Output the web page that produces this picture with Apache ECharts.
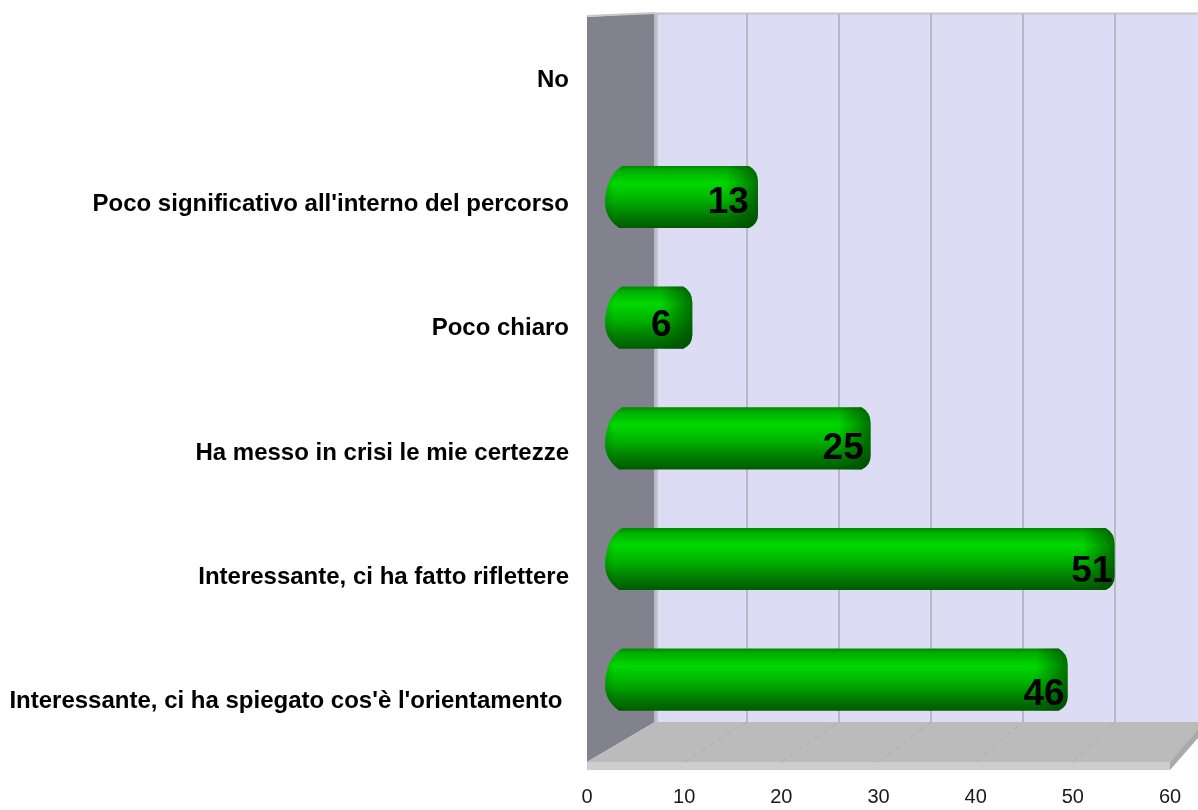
<!DOCTYPE html>
<html><head><meta charset="utf-8">
<style>html,body{margin:0;padding:0;background:#fff}#c{width:1198px;height:810px}</style>
<script src="https://cdn.jsdelivr.net/npm/echarts@6/dist/echarts.min.js"></script>
</head><body><div id="c"></div>
<script>
var categories = ['No','Poco significativo all\'interno del percorso','Poco chiaro','Ha messo in crisi le mie certezze','Interessante, ci ha fatto riflettere','Interessante, ci ha spiegato cos\'è l\'orientamento '];
var values = [0,13,6,25,51,46];
var axisTicks = [0,10,20,30,40,50,60];

var chart = echarts.init(document.getElementById('c'), null, {renderer:'canvas'});
var FONT = '"Liberation Sans", Arial, sans-serif';
var rows = values.map(function(v,i){return [v,i];});

function poly(points, fill, z){
  return {type:'polygon', z:z||-10, silent:true, shape:{points:points}, style:{fill:fill}};
}
function seg(x1,y1,x2,y2,stroke,w,dash){
  return {type:'line', z:-9, silent:true, shape:{x1:x1,y1:y1,x2:x2,y2:y2}, style:{stroke:stroke,lineWidth:w,lineDash:dash||null}};
}
var scenery = [
  poly([[655,14],[1198,14],[1198,722],[655,722]],'#dcdcf4'),
  poly([[587,17],[620,15],[655,13],[655,722],[587,762]],'#82828e'),
  poly([[587,762],[655,722],[1198,722],[1198,733],[1170,762]],'#bbbbbb'),
  poly([[587,762],[1170,762],[1170,770],[587,770]],'#cdcdcd'),
  poly([[1170,770],[1170,762],[1198,730],[1198,738]],'#a9a9a9'),
  seg(655,13.5,1198,13.5,'#c4c4c4',2),
  seg(587,16,655,13,'#c8c8c8',2),
  seg(656.5,14,656.5,722,'#c3c3d0',3)
];
[1,2,3,4,5].forEach(function(k){
  scenery.push(seg(587+97.2*k,762,655+92*k,722,'#adadad',1,[6,4]));
});

chart.setOption({
  animation:false,
  backgroundColor:'#ffffff',
  graphic:{elements:scenery},
  grid:[
    {left:587,width:583,top:18,height:746},   // front: tick labels + category labels
    {left:655,width:460,top:14,height:708},   // back wall gridlines
    {left:635,width:564,top:16,height:724},   // cylinders
    {left:604,width:574,top:19,height:737}    // value labels
  ],
  xAxis:[
    {gridIndex:0,type:'value',min:0,max:60,interval:10,axisLine:{show:false},axisTick:{show:false},splitLine:{show:false},
     axisLabel:{margin:23,fontSize:20,color:'#1a1a1a',fontFamily:FONT,
       formatter:function(v){return axisTicks.indexOf(v)>=0?String(v):'';}}},
    {gridIndex:1,type:'value',min:0,max:50,interval:10,axisLine:{show:false},axisTick:{show:false},axisLabel:{show:false},
     splitLine:{show:true,lineStyle:{color:'#b9b9c6',width:2}}},
    {gridIndex:2,type:'value',min:0,max:60,show:false},
    {gridIndex:3,type:'value',min:0,max:60,show:false}
  ],
  yAxis:[
    {gridIndex:0,type:'category',inverse:true,data:categories,axisLine:{show:false},axisTick:{show:false},
     axisLabel:{margin:18,fontSize:24,fontWeight:'bold',color:'#000',fontFamily:FONT,interval:0}},
    {gridIndex:1,type:'category',data:categories,show:false},
    {gridIndex:2,type:'category',inverse:true,data:categories,show:false},
    {gridIndex:3,type:'category',inverse:true,data:categories,show:false}
  ],
  series:[
    {type:'custom',xAxisIndex:1,yAxisIndex:1,data:[],renderItem:function(){return null;}},
    {type:'custom',xAxisIndex:2,yAxisIndex:2,data:rows,clip:false,z:5,
     renderItem:function(params,api){
       var v=api.value(0); if(!v) return null;
       var idx=api.value(1);
       var end=api.coord([v,idx]), origin=api.coord([0,idx]);
       var band=api.size([0,1])[1], h=band*0.515;
       var x0=origin[0]-30, x1=end[0]+1, y0=end[1]-h/2, y1=end[1]+h/2, w=x1-x0;
       var d='M'+(x0+17)+' '+y0+' L'+(x1-9)+' '+y0+' Q'+x1+' '+(y0+5)+' '+x1+' '+(y0+16)+
             ' L'+x1+' '+(y1-14)+' Q'+x1+' '+(y1-4)+' '+(x1-9)+' '+y1+
             ' L'+(x0+14)+' '+y1+' Q'+x0+' '+(y1-10)+' '+x0+' '+(y1-26)+
             ' Q'+(x0+1)+' '+(y0+10)+' '+(x0+17)+' '+y0+' Z';
       function sh(fill){return {type:'path',shape:{pathData:d,x:x0,y:y0,width:w,height:h,layout:'cover'},style:{fill:fill}};}
       return {type:'group',children:[
         sh({type:'linear',x:0,y:0,x2:0,y2:1,colorStops:[
           {offset:0,color:'#008a00'},{offset:0.08,color:'#00b000'},{offset:0.28,color:'#00d800'},
           {offset:0.55,color:'#00b000'},{offset:0.8,color:'#007c00'},{offset:1,color:'#005a00'}]}),
         sh({type:'linear',x:0,y:0,x2:1,y2:0,colorStops:[
           {offset:0,color:'rgba(0,70,0,0.2)'},{offset:9/w,color:'rgba(0,70,0,0)'},
           {offset:Math.max(0.1,1-32/w),color:'rgba(0,70,0,0)'},{offset:1,color:'rgba(0,70,0,0.7)'}]})
       ]};
     }},
    {type:'custom',xAxisIndex:3,yAxisIndex:3,data:rows,clip:false,z:6,
     renderItem:function(params,api){
       var v=api.value(0); if(!v) return null;
       var p=api.coord([v,api.value(1)]);
       return {type:'text',x:p[0],y:p[1],style:{text:String(v),fill:'#000',font:'bold 37px '+FONT,align:'center',verticalAlign:'middle'}};
     }}
  ]
});
</script></body></html>
